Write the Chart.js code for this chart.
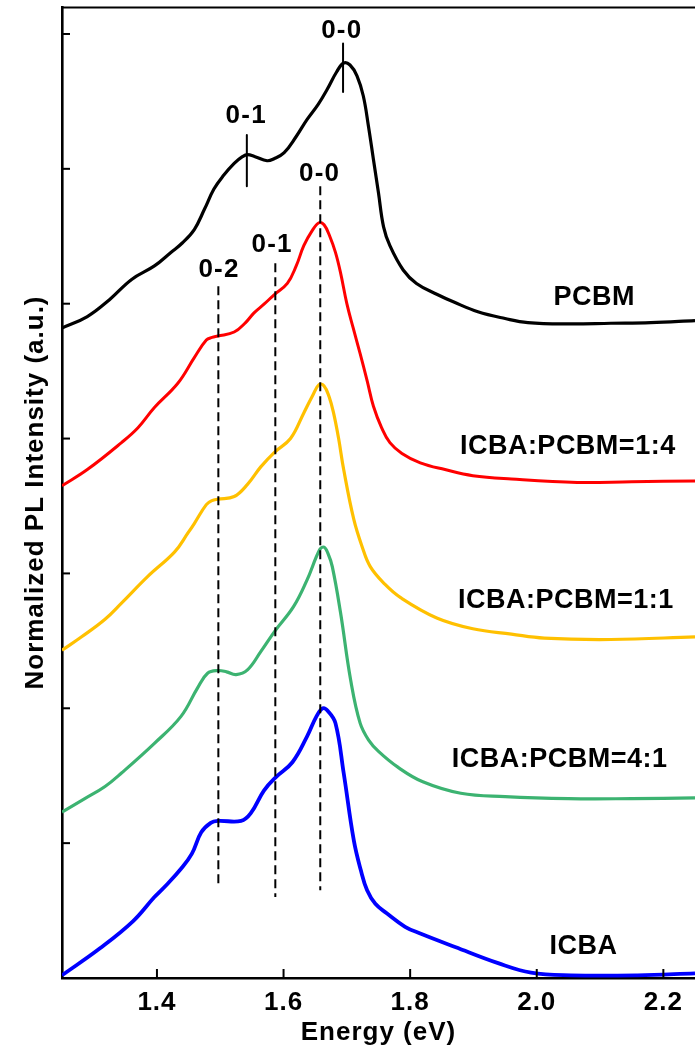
<!DOCTYPE html>
<html>
<head>
<meta charset="utf-8">
<style>
  html, body { margin: 0; padding: 0; background: #fff; }
  #wrap { width: 695px; height: 1053px; }
</style>
<script src="https://cdn.jsdelivr.net/npm/chart.js@4.4.1/dist/chart.umd.min.js"></script>
</head>
<body>
<div id="wrap"><canvas id="pl" width="695" height="1053"></canvas></div>
<script>
// Axis ticks
const energyTicks = [1.4, 1.6, 1.8, 2.0, 2.2];
const intensityTicks = [1, 2, 3, 4, 5, 6, 7];

// PL spectra (energy in eV, vertically offset normalized intensity)
const pcbmE = [1.25, 1.29, 1.325, 1.36, 1.396, 1.422, 1.44, 1.459, 1.475, 1.49, 1.505, 1.522, 1.535, 1.543, 1.555, 1.574, 1.585, 1.601, 1.62, 1.637, 1.655, 1.669, 1.684, 1.695, 1.705, 1.716, 1.726, 1.734, 1.742, 1.75, 1.758, 1.768, 1.789, 1.81, 1.842, 1.87, 1.907, 1.95, 1.986, 2.05, 2.117, 2.18, 2.25];
const pcbmI = [4.82, 4.905, 5.03, 5.18, 5.28, 5.38, 5.45, 5.55, 5.70, 5.85, 5.95, 6.04, 6.09, 6.105, 6.09, 6.06, 6.075, 6.12, 6.24, 6.365, 6.48, 6.59, 6.72, 6.785, 6.77, 6.69, 6.54, 6.32, 6.07, 5.82, 5.57, 5.43, 5.25, 5.15, 5.07, 5.01, 4.94, 4.89, 4.86, 4.85, 4.855, 4.86, 4.875];

const r14E = [1.25, 1.29, 1.344, 1.37, 1.396, 1.433, 1.459, 1.478, 1.487, 1.496, 1.522, 1.54, 1.553, 1.57, 1.586, 1.606, 1.62, 1.632, 1.645, 1.656, 1.664, 1.673, 1.682, 1.69, 1.70, 1.71, 1.721, 1.732, 1.742, 1.755, 1.768, 1.787, 1.816, 1.855, 1.899, 1.96, 2.064, 2.15, 2.25];
const r14I = [3.65, 3.77, 3.97, 4.08, 4.23, 4.41, 4.60, 4.73, 4.75, 4.76, 4.79, 4.86, 4.93, 5.00, 5.07, 5.15, 5.28, 5.43, 5.54, 5.60, 5.585, 5.50, 5.38, 5.23, 5.00, 4.82, 4.63, 4.43, 4.24, 4.08, 3.97, 3.89, 3.82, 3.77, 3.725, 3.70, 3.675, 3.68, 3.685];

const r11E = [1.25, 1.281, 1.318, 1.344, 1.386, 1.428, 1.449, 1.459, 1.478, 1.487, 1.496, 1.522, 1.543, 1.564, 1.586, 1.611, 1.632, 1.646, 1.656, 1.664, 1.672, 1.679, 1.687, 1.695, 1.711, 1.724, 1.737, 1.76, 1.785, 1.842, 1.899, 1.96, 2.012, 2.117, 2.25];
const r11I = [2.43, 2.53, 2.66, 2.78, 2.98, 3.16, 3.30, 3.37, 3.51, 3.54, 3.55, 3.57, 3.66, 3.79, 3.90, 4.00, 4.19, 4.32, 4.40, 4.39, 4.31, 4.19, 4.00, 3.77, 3.40, 3.20, 3.05, 2.92, 2.82, 2.67, 2.59, 2.55, 2.52, 2.51, 2.53];

const r41E = [1.25, 1.286, 1.318, 1.344, 1.396, 1.438, 1.464, 1.48, 1.496, 1.51, 1.525, 1.543, 1.564, 1.586, 1.616, 1.637, 1.657, 1.664, 1.67, 1.677, 1.69, 1.706, 1.721, 1.735, 1.75, 1.78, 1.82, 1.88, 1.95, 2.05, 2.15, 2.25];
const r41I = [1.23, 1.33, 1.42, 1.52, 1.74, 1.94, 2.15, 2.26, 2.28, 2.27, 2.25, 2.285, 2.42, 2.57, 2.755, 2.95, 3.175, 3.195, 3.15, 3.05, 2.71, 2.21, 1.89, 1.76, 1.68, 1.565, 1.455, 1.37, 1.345, 1.33, 1.33, 1.335];

const icbaE = [1.25, 1.31, 1.362, 1.396, 1.415, 1.438, 1.455, 1.47, 1.485, 1.496, 1.533, 1.548, 1.569, 1.588, 1.614, 1.637, 1.652, 1.662, 1.67, 1.682, 1.695, 1.711, 1.722, 1.732, 1.745, 1.763, 1.792, 1.816, 1.871, 1.939, 1.991, 2.054, 2.159, 2.25];
const icbaI = [0.02, 0.22, 0.42, 0.60, 0.69, 0.81, 0.92, 1.08, 1.15, 1.165, 1.165, 1.22, 1.39, 1.49, 1.60, 1.79, 1.94, 2.00, 1.98, 1.89, 1.52, 1.02, 0.80, 0.65, 0.55, 0.48, 0.38, 0.33, 0.23, 0.11, 0.04, 0.02, 0.02, 0.035];

// Vibronic transition markers: [energy, y from, y to]
const dashedMarks = [[1.497, 5.13, 0.68], [1.587, 5.30, 0.60], [1.658, 5.87, 0.65]];
const solidMarks = [[1.694, 6.93, 6.57], [1.542, 6.25, 5.87]];
const vibronicText = ['0-0', '0-1', '0-0', '0-1', '0-2'];
const vibronicAt = [[1.692, 7.02], [1.541, 6.39], [1.657, 5.96], [1.582, 5.44], [1.498, 5.25]];

const seriesNames = ['PCBM', 'ICBA:PCBM=1:4', 'ICBA:PCBM=1:1', 'ICBA:PCBM=4:1', 'ICBA'];
const seriesNameAt = [[2.091, 5.045], [2.049, 3.94], [2.046, 2.80], [2.036, 1.62], [2.074, 0.23]];

const FONT = '"Liberation Sans", Arial, Helvetica, sans-serif';

function pts(xs, ys) { return xs.map((x, i) => ({ x: x, y: ys[i] })); }

const spectra = [
  { label: 'PCBM', data: pts(pcbmE, pcbmI), borderColor: '#000000', borderWidth: 3.2 },
  { label: 'ICBA:PCBM=1:4', data: pts(r14E, r14I), borderColor: '#ff0000', borderWidth: 3 },
  { label: 'ICBA:PCBM=1:1', data: pts(r11E, r11I), borderColor: '#ffc000', borderWidth: 3.2 },
  { label: 'ICBA:PCBM=4:1', data: pts(r41E, r41I), borderColor: '#3cb371', borderWidth: 3.2 },
  { label: 'ICBA', data: pts(icbaE, icbaI), borderColor: '#0000ff', borderWidth: 3.8 }
].map(d => Object.assign(d, { tension: 0.4, order: 2, fill: false }));

const marks = dashedMarks.map(m => ({
  data: [{ x: m[0], y: m[1] }, { x: m[0], y: m[2] }],
  borderColor: '#000', borderWidth: 2, borderDash: [9, 5], order: 1, fill: false
})).concat(solidMarks.map(m => ({
  data: [{ x: m[0], y: m[1] }, { x: m[0], y: m[2] }],
  borderColor: '#000', borderWidth: 2, order: 1, fill: false
})));

const decorations = {
  id: 'decorations',
  beforeDraw(chart) {
    chart.ctx.letterSpacing = '1px';
  },
  afterDraw(chart) {
    const ctx = chart.ctx;
    const xs = chart.scales.x, ys = chart.scales.y;
    const a = chart.chartArea;
    ctx.save();
    ctx.strokeStyle = '#000';
    // top frame line
    ctx.lineWidth = 2;
    ctx.beginPath();
    ctx.moveTo(a.left, a.top + 0.5);
    ctx.lineTo(a.right, a.top + 0.5);
    ctx.stroke();
    // inward tick marks
    intensityTicks.forEach(v => {
      const y = ys.getPixelForValue(v);
      ctx.beginPath();
      ctx.moveTo(a.left, y);
      ctx.lineTo(a.left + 8, y);
      ctx.stroke();
    });
    energyTicks.forEach(v => {
      const x = xs.getPixelForValue(v);
      ctx.beginPath();
      ctx.moveTo(x, a.bottom);
      ctx.lineTo(x, a.bottom - 9);
      ctx.stroke();
    });
    // labels
    ctx.fillStyle = '#000';
    ctx.textAlign = 'center';
    ctx.textBaseline = 'middle';
    ctx.letterSpacing = '1.2px';
    ctx.font = 'bold 26px ' + FONT;
    vibronicText.forEach((t, i) => {
      ctx.fillText(t, xs.getPixelForValue(vibronicAt[i][0]), ys.getPixelForValue(vibronicAt[i][1]));
    });
    ctx.letterSpacing = '0.5px';
    ctx.font = 'bold 27px ' + FONT;
    seriesNames.forEach((t, i) => {
      ctx.fillText(t, xs.getPixelForValue(seriesNameAt[i][0]), ys.getPixelForValue(seriesNameAt[i][1]));
    });
    ctx.restore();
  }
};

new Chart(document.getElementById('pl'), {
  type: 'line',
  data: { datasets: marks.concat(spectra) },
  options: {
    responsive: false,
    animation: false,
    devicePixelRatio: 1,
    layout: { padding: { top: 7, right: 0, bottom: 0, left: 0 } },
    elements: { point: { radius: 0 }, line: { borderCapStyle: 'butt', borderJoinStyle: 'round' } },
    plugins: { legend: { display: false }, tooltip: { enabled: false } },
    scales: {
      x: {
        type: 'linear',
        min: 1.25,
        max: 2.25,
        afterBuildTicks: s => { s.ticks = energyTicks.map(v => ({ value: v })); },
        afterFit: s => { s.height = 75; },
        grid: { display: false, drawTicks: false },
        border: { display: true, color: '#000', width: 2.6 },
        ticks: {
          color: '#000',
          padding: 9,
          maxRotation: 0,
          autoSkip: false,
          font: { family: FONT, size: 26, weight: 'bold' },
          callback: v => Number(v).toFixed(1)
        },
        title: {
          display: true,
          text: 'Energy (eV)',
          color: '#000',
          font: { family: FONT, size: 26, weight: 'bold' },
          padding: { top: 0, bottom: 5 }
        }
      },
      y: {
        type: 'linear',
        min: 0,
        max: 7.2,
        afterFit: s => { s.width = 62; },
        grid: { display: false, drawTicks: false },
        border: { display: true, color: '#000', width: 2.6 },
        ticks: { display: false },
        title: {
          display: true,
          text: 'Normalized PL Intensity (a.u.)',
          color: '#000',
          font: { family: FONT, size: 26, weight: 'bold' },
          padding: { top: 20, bottom: 0 }
        }
      }
    }
  },
  plugins: [decorations]
});
</script>
</body>
</html>
